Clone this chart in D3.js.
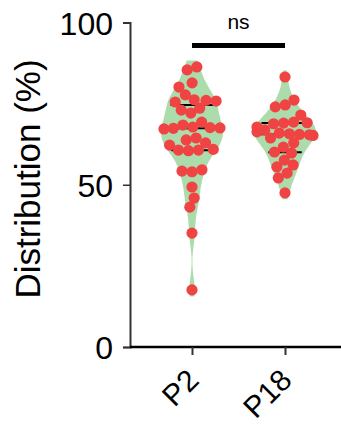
<!DOCTYPE html>
<html>
<head>
<meta charset="utf-8">
<script src="https://cdn.jsdelivr.net/npm/d3@7"></script>
<style>
  body { margin: 0; background: #fff; }
  svg text { font-family: Arial, "Liberation Sans", sans-serif; fill: #000; }
</style>
</head>
<body>
<svg id="chart" width="341" height="425"></svg>
<script>
// groups on the x axis
var groups = ["P2", "P18"]

// values (%)
var p2Values = [86.3, 85.4, 81.4, 80.1, 77.7, 75.5, 75.8, 76.0, 76.2, 73.6, 73.0, 72.1,
  69.3, 68.4, 67.5, 67.2, 67.8, 67.4, 67.6, 64.4, 62.9, 63.8, 60.7, 60.9, 60.5,
  60.7, 62.2, 54.2, 54.6, 54.0, 49.3, 45.9, 43.1, 35.1, 17.6]
var p18Values = [83.2, 76.1, 74.6, 74.0, 71.5, 67.8, 66.3, 69.0, 69.3, 68.8, 69.1,
  66.9, 65.9, 64.4, 65.5, 65.2, 65.7, 65.4, 62.9, 61.6, 59.8, 60.1, 57.6, 55.5,
  56.1, 53.6, 52.1, 47.5]

var yTicks = [0, 50, 100]
var yLabel = "Distribution (%)"
var sigLabel = "ns"

var series = [p2Values, p18Values]

var svg = d3.select("#chart")

var y = d3.scaleLinear().domain([0, 100]).range([347, 22.5])
var x = d3.scalePoint().domain(groups).range([192, 285])

var violinColor = "#acdcac"
var dotColor = "#f04343"
var dotR = 5.6
var halfWidth = 31
var bw = 3.8

// kernel density for the violin outline
function density(values, v) {
  return d3.sum(values, function(d) {
    var u = (v - d) / bw
    return Math.exp(-0.5 * u * u)
  })
}

groups.forEach(function(gname, gi) {
  var vals = series[gi].slice().sort(d3.ascending)
  var lo = d3.min(vals) - 2, hi = d3.max(vals) + 2
  var pts = d3.range(lo, hi + 0.01, (hi - lo) / 80)
  var dens = pts.map(function(v) { return [v, density(vals, v)] })
  var maxD = d3.max(dens, function(d) { return d[1] })
  var w = d3.scaleLinear().domain([0, maxD]).range([0, halfWidth])
  var cx = x(gname)

  var area = d3.area()
    .y(function(d) { return y(d[0]) })
    .x0(function(d) { return cx - w(d[1]) })
    .x1(function(d) { return cx + w(d[1]) })
    .curve(d3.curveBasis)

  svg.append("path")
    .attr("d", area(dens))
    .style("fill", violinColor)
    .style("stroke", "none")

  // quartile lines
  ;[0.25, 0.5, 0.75].forEach(function(q) {
    var qv = d3.quantile(vals, q)
    var hw = w(density(vals, qv)) * 0.85
    svg.append("line")
      .attr("x1", cx - hw).attr("x2", cx + hw)
      .attr("y1", y(qv)).attr("y2", y(qv))
      .style("stroke", "#000").style("stroke-width", 2)
  })

  // beeswarm dots, allowed to overlap a little
  var nodes = vals.map(function(v) { return {v: v, x: cx, y: y(v), fy: y(v)} })
  var sim = d3.forceSimulation(nodes)
    .force("x", d3.forceX(cx).strength(0.06))
    .force("collide", d3.forceCollide(dotR * 0.9))
    .stop()
  for (var i = 0; i < 250; i++) sim.tick()

  svg.append("g").selectAll("circle")
    .data(nodes)
    .join("circle")
    .attr("cx", function(d) { return Math.max(cx - halfWidth + 3, Math.min(cx + halfWidth - 3, d.x)) })
    .attr("cy", function(d) { return y(d.v) })
    .attr("r", dotR)
    .style("fill", dotColor)
})

// y axis
var yAxis = svg.append("g")
  .attr("transform", "translate(130,0)")
  .call(d3.axisLeft(y).tickValues(yTicks).tickSize(7).tickPadding(10))
yAxis.select(".domain").style("stroke", "#333").style("stroke-width", 2)
yAxis.selectAll(".tick line").style("stroke", "#333").style("stroke-width", 1.5)
yAxis.selectAll("text").style("font-size", "32px").style("font-family", "Arial, 'Liberation Sans', sans-serif").attr("dy", "0.36em")

// x axis
var xAxis = svg.append("g")
  .attr("transform", "translate(0,347)")
  .call(d3.axisBottom(x).tickSize(8).tickSizeOuter(0))
xAxis.select(".domain").attr("d", "M130,0H341").style("stroke", "#000").style("stroke-width", 2.5)
xAxis.selectAll(".tick line").style("stroke", "#333").style("stroke-width", 2)
xAxis.selectAll("text")
  .style("font-size", "30px")
  .style("font-family", "Arial, 'Liberation Sans', sans-serif")
  .attr("text-anchor", "end")
  .attr("y", 0).attr("dy", 0)
  .attr("transform", "translate(8,35) rotate(-45)")

// y label
svg.append("text")
  .attr("transform", "translate(40,179) rotate(-90)")
  .attr("text-anchor", "middle")
  .style("font-size", "35px")
  .text(yLabel)

// significance bar
svg.append("rect")
  .attr("x", x("P2")).attr("width", x("P18") - x("P2"))
  .attr("y", 43).attr("height", 5)
  .style("fill", "#000")
svg.append("text")
  .attr("x", (x("P2") + x("P18")) / 2)
  .attr("y", 29)
  .attr("text-anchor", "middle")
  .style("font-size", "21px")
  .text(sigLabel)
</script>
</body>
</html>
